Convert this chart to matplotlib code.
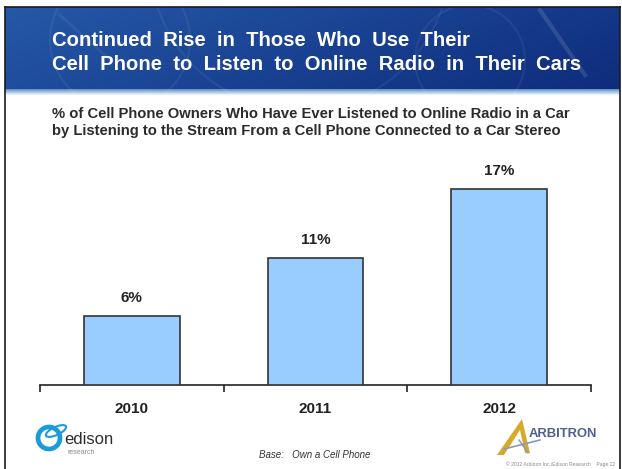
import numpy as np
import matplotlib
matplotlib.use("Agg")
import matplotlib.pyplot as plt
from matplotlib.patches import Ellipse, Polygon
from matplotlib.lines import Line2D

years = ["2010", "2011", "2012"]
shares = [6, 11, 17]
value_labels = ["6%", "11%", "17%"]

title_lines = ["Continued  Rise  in  Those  Who  Use  Their",
               "Cell  Phone  to  Listen  to  Online  Radio  in  Their  Cars"]
subtitle_lines = ["% of Cell Phone Owners Who Have Ever Listened to Online Radio in a Car",
                  "by Listening to the Stream From a Cell Phone Connected to a Car Stereo"]
base_note = "Base:   Own a Cell Phone"
footer_note = "\u00a9 2012 Arbitron Inc./Edison Research    Page 22"

W, H = 622, 469
plt.rcParams['font.family'] = ['Liberation Sans', 'DejaVu Sans']
fig = plt.figure(figsize=(W / 100, H / 100), dpi=100)
fig.patch.set_facecolor("white")

# background layer in pixel coordinates (y down)
bg = fig.add_axes([0, 0, 1, 1], zorder=0)
bg.set_xlim(0, W)
bg.set_ylim(H, 0)
bg.axis("off")

# header gradient
hx = np.linspace(0, 1, 300)
hy = np.linspace(0, 1, 60)
X, Y = np.meshgrid(hx, hy)
c_left = np.array([0x26, 0x58, 0xa8]) / 255
c_right = np.array([0x0e, 0x2c, 0x7c]) / 255
t = (0.75 * X + 0.25 * Y)[..., None]
grad = c_left * (1 - t) + c_right * t
bg.imshow(grad, extent=(5, W - 2, 89, 7), aspect="auto", zorder=1)

# faint decorative strokes in the header
for (cx, cy, r) in [(120, 40, 70), (470, 60, 55), (300, -40, 150)]:
    bg.add_patch(Ellipse((cx, cy), 2 * r, 2 * r, fill=False, ec=(1, 1, 1, 0.06),
                         lw=1.5, zorder=2, clip_on=True))
bg.add_line(Line2D([540, 585], [10, 75], color=(1, 1, 1, 0.12), lw=3, zorder=2))
bg.add_line(Line2D([60, 110], [15, 60], color=(1, 1, 1, 0.06), lw=2, zorder=2))

# light band under header
band = np.linspace(0, 1, 20)[:, None, None]
top_c = np.array([0x5d, 0x8f, 0xc8]) / 255
bot_c = np.array([0xf4, 0xf8, 0xfc]) / 255
band_img = top_c * (1 - band) + bot_c * band
band_img = np.repeat(band_img, 2, axis=1)
bg.imshow(band_img, extent=(5, W - 2, 95, 89), aspect="auto", zorder=1)

# frame
bg.add_line(Line2D([5, 5], [7, H], color="#1a1a1a", lw=1.2, zorder=3))
bg.add_line(Line2D([5, W - 2], [7, 7], color="#1a1a1a", lw=1.2, zorder=3))
bg.add_line(Line2D([W - 2, W - 2], [7, H], color="#1a1a1a", lw=1.2, zorder=3))

for i, line in enumerate(title_lines):
    bg.text(52, 41 + i * 23, line, color="white", fontsize=14.6, fontweight="bold",
            va="center", ha="left", zorder=4)

for i, line in enumerate(subtitle_lines):
    bg.text(52, 114 + i * 17, line, color="#2b2b2b", fontsize=10.6, fontweight="bold",
            va="center", ha="left", zorder=4)

# edison logo
bg.add_patch(Ellipse((49, 438), 22, 22, angle=20, fill=False, ec="#1b9bd7", lw=3.4, zorder=4))
bg.add_patch(Ellipse((56, 431), 22, 8, angle=-25, fill=False, ec="#1b9bd7", lw=1.5, zorder=4))
bg.text(64, 440, "edison", color="#2f2f2f", fontsize=12, va="center", ha="left", zorder=5)
bg.text(67, 452, "research", color="#8a8a8a", fontsize=5, va="center", ha="left", zorder=5)

# arbitron logo
bg.add_patch(Polygon([[497, 455], [522, 419], [530, 453], [525, 453], [520, 430], [504, 455]],
                     closed=True, fc="#d7a92b", ec="none", zorder=4))
bg.add_line(Line2D([504, 540], [449, 440], color="#8a97b8", lw=1.2, zorder=4))
bg.add_line(Line2D([519, 528], [440, 453], color="#8a97b8", lw=1.0, zorder=4))
bg.text(529, 434, "ARBITRON", color="#4f5f8f", fontsize=9.4, fontweight="bold",
        va="center", ha="left", zorder=5)

bg.text(259, 455, base_note, color="#333333", fontsize=7, style="italic",
        va="center", ha="left", zorder=5)
bg.text(615, 464, footer_note, color="#8a8a8a", fontsize=3.6,
        va="center", ha="right", zorder=5)

# bar chart
ax_left, ax_right = 40, 591
ax_base, ax_top = 385, 155
ax = fig.add_axes([ax_left / W, 1 - ax_base / H, (ax_right - ax_left) / W,
                   (ax_base - ax_top) / H], zorder=2)
ax.patch.set_alpha(0)
x = np.arange(len(years))
ax.bar(x, shares, width=0.52, color="#99ccff", edgecolor="#333333", linewidth=1.2, zorder=3)
ax.set_xlim(-0.5, len(years) - 0.5)
ax.set_ylim(0, 20)
for xi, v, lab in zip(x, shares, value_labels):
    ax.annotate(lab, (xi, v), xytext=(0, 8), textcoords="offset points",
                ha="center", va="bottom", fontsize=11, fontweight="bold", color="#222222")

for s in ["top", "right", "left"]:
    ax.spines[s].set_visible(False)
ax.spines["bottom"].set_color("#222222")
ax.spines["bottom"].set_linewidth(1.2)
ax.set_yticks([])
ax.set_xticks(x)
ax.set_xticklabels(years, fontsize=11, fontweight="bold", color="#222222")
ax.tick_params(axis="x", which="major", length=0, pad=12)
ax.set_xticks(np.arange(-0.5, len(years)), minor=True)
ax.tick_params(axis="x", which="minor", length=5, width=1.2, color="#222222", direction="out")

fig.savefig("out.png", dpi=100)
